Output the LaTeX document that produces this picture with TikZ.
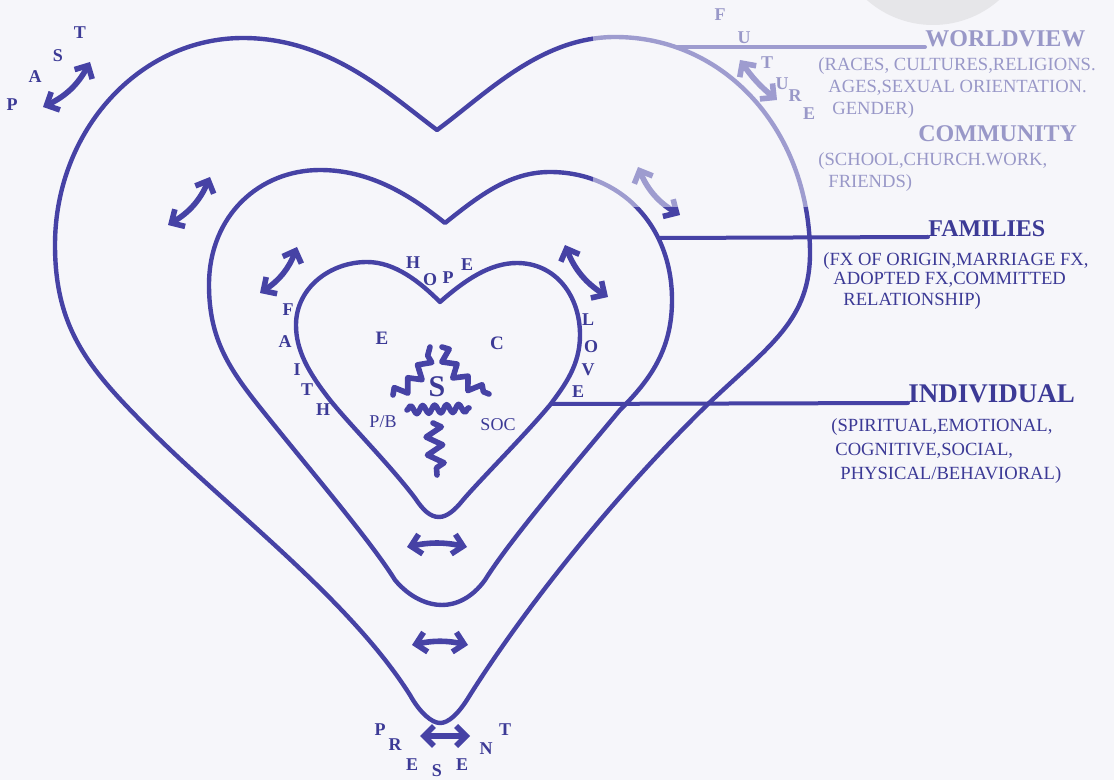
\documentclass[tikz,border=0pt]{standalone}
\usepackage{fontspec}
\setmainfont{Liberation Serif}
\usetikzlibrary{arrows.meta,decorations.pathmorphing}
\definecolor{heartblue}{RGB}{70,66,165}
\definecolor{inkblue}{RGB}{60,58,150}
\definecolor{paper}{RGB}{246,246,250}
\definecolor{blobgrey}{RGB}{230,230,233}
\begin{document}
\begin{tikzpicture}[
x=0.5pt,y=-0.5pt,
heart/.style={draw=heartblue,line width=2.2pt,line join=round},
leader/.style={draw=heartblue,line width=2pt,line cap=round},
swing/.style={draw=heartblue,line width=2.8pt,line cap=round,{Straight Barb[length=5pt,width=10pt]}-{Straight Barb[length=5pt,width=10pt]}},
letter/.style={text=inkblue,font=\bfseries\fontsize{9}{10}\selectfont,inner sep=0pt},
head/.style={text=inkblue,font=\bfseries\fontsize{12}{14}\selectfont,inner sep=0pt,anchor=base west},
desc/.style={text=inkblue,font=\fontsize{9.3}{11}\selectfont,inner sep=0pt,anchor=base west},
wave/.style={draw=heartblue,line width=2.8pt,line join=round,line cap=round,decorate}
]
\path[fill=paper,use as bounding box] (0,0) rectangle (1114,780);

\path[heart] (437,130) .. controls (485,95) and (540,37) .. (615,37)
  .. controls (725,37) and (808,130) .. (810,250)
  .. controls (811,320) and (770,345) .. (708,404)
  .. controls (620,490) and (530,600) .. (470,695)
  .. controls (458,715) and (448,723) .. (440,723)
  .. controls (432,723) and (420,713) .. (410,695)
  .. controls (350,600) and (230,510) .. (150,430)
  .. controls (90,370) and (55,330) .. (55,245)
  .. controls (55,130) and (140,38) .. (243,38)
  .. controls (330,38) and (390,95) .. (437,130) -- cycle;
\path[heart] (445,223) .. controls (480,195) and (510,172) .. (550,172)
  .. controls (620,172) and (672,225) .. (672,300)
  .. controls (672,350) and (650,380) .. (620,410)
  .. controls (570,470) and (510,540) .. (485,580)
  .. controls (472,598) and (456,605) .. (442,605)
  .. controls (428,605) and (410,598) .. (395,580)
  .. controls (370,540) and (310,470) .. (262,410)
  .. controls (230,370) and (209,340) .. (209,285)
  .. controls (209,215) and (260,170) .. (320,170)
  .. controls (370,170) and (410,195) .. (445,223) -- cycle;
\path[heart] (440,302) .. controls (465,280) and (490,263) .. (517,263)
  .. controls (555,263) and (580,295) .. (580,335)
  .. controls (580,365) and (565,385) .. (550,405)
  .. controls (525,435) and (480,480) .. (463,500)
  .. controls (455,510) and (447,517) .. (439,517)
  .. controls (430,517) and (423,510) .. (415,498)
  .. controls (390,465) and (350,425) .. (330,400)
  .. controls (308,372) and (296,350) .. (296,325)
  .. controls (296,288) and (330,262) .. (367,262)
  .. controls (395,262) and (420,282) .. (440,302) -- cycle;

\coordinate (past-a) at (43,107);
\coordinate (past-b) at (90,62);
\coordinate (outer-la) at (168,225);
\coordinate (outer-lb) at (210,177);
\coordinate (outer-ra) at (638,167);
\coordinate (outer-rb) at (680,215);
\coordinate (mid-la) at (260,293);
\coordinate (mid-lb) at (297,247);
\coordinate (mid-ra) at (565,245);
\coordinate (mid-rb) at (608,297);
\coordinate (future-a) at (740,60);
\coordinate (future-b) at (777,100);
\coordinate (low-a) at (407,547);
\coordinate (low-b) at (467,547);
\coordinate (lower-a) at (412,645);
\coordinate (lower-b) at (468,645);
\coordinate (present-a) at (420,736);
\coordinate (present-b) at (470,736);
\draw[swing] (past-a) to[bend right=18] (past-b);
\draw[swing] (outer-la) to[bend right=18] (outer-lb);
\draw[swing] (outer-ra) to[bend right=18] (outer-rb);
\draw[swing] (mid-la) to[bend right=18] (mid-lb);
\draw[swing] (mid-ra) to[bend right=18] (mid-rb);
\draw[swing] (future-a) to[bend right=8] (future-b);
\draw[swing] (low-a) to[bend left=12] (low-b);
\draw[swing] (lower-a) to[bend left=12] (lower-b);
\draw[swing] (present-a) -- (present-b);

\coordinate (self-e1) at (393,395);
\coordinate (self-e2) at (430,347);
\coordinate (self-c1) at (442,347);
\coordinate (self-c2) at (489,394);
\coordinate (self-s1) at (407,410);
\coordinate (self-s2) at (469,408);
\coordinate (self-p1) at (433,423);
\coordinate (self-p2) at (437,475);
\draw[wave,decoration={zigzag,segment length=9pt,amplitude=3pt}] (self-e1) to[bend right=25] (self-e2);
\draw[wave,decoration={zigzag,segment length=9pt,amplitude=3pt}] (self-c1) to[bend right=25] (self-c2);
\draw[wave,decoration={snake,segment length=6pt,amplitude=2pt}] (self-s1) -- (self-s2);
\draw[wave,decoration={zigzag,segment length=9pt,amplitude=4pt}] (self-p1) -- (self-p2);

\foreach \ch/\px/\py [count=\i] in {P/12/105,A/35/77,S/58/56,T/80/33}
  \node[letter] (past-\i) at (\px,\py) {\ch};
\foreach \ch/\px/\py [count=\i] in {F/720/15,U/744/38,T/767/63,U/782/84,R/795/96,E/809/114}
  \node[letter] (future-\i) at (\px,\py) {\ch};
\foreach \ch/\px/\py [count=\i] in {P/380/730,R/395/745,E/412/765,S/437/771,E/462/765,N/486/749,T/505/730}
  \node[letter] (present-\i) at (\px,\py) {\ch};
\foreach \ch/\px/\py [count=\i] in {H/413/263,O/430/280,P/448/278,E/467/265}
  \node[letter] (hope-\i) at (\px,\py) {\ch};
\foreach \ch/\px/\py [count=\i] in {F/288/310,A/285/342,I/297/370,T/307/390,H/323/410}
  \node[letter] (faith-\i) at (\px,\py) {\ch};
\foreach \ch/\px/\py [count=\i] in {L/588/320,O/591/347,V/588/370,E/578/392}
  \node[letter] (love-\i) at (\px,\py) {\ch};

\node[letter,font=\bfseries\fontsize{9.5}{10}\selectfont] (emo) at (382,338) {E};
\node[letter,font=\bfseries\fontsize{9.5}{10}\selectfont] (cog) at (497,343) {C};
\node[letter,font=\bfseries\fontsize{15}{16}\selectfont] (spirit) at (437,387) {S};
\node[letter,font=\fontsize{9}{10}\selectfont] (phys) at (383,422) {P/B};
\node[letter,font=\fontsize{9}{10}\selectfont] (soc) at (498,425) {SOC};

\node[head] (worldview) at (925,47) {WORLDVIEW};
\node[desc] (wv-l1) at (818,71) {(RACES, CULTURES,RELIGIONS.};
\node[desc] (wv-l2) at (828,93) {AGES,SEXUAL ORIENTATION.};
\node[desc] (wv-l3) at (832,115) {GENDER)};
\node[head] (community) at (918,142) {COMMUNITY};
\node[desc] (cm-l1) at (818,166) {(SCHOOL,CHURCH.WORK,};
\node[desc] (cm-l2) at (828,188) {FRIENDS)};
\node[head] (families) at (928,237) {FAMILIES};
\node[desc] (fx-l1) at (823,266) {(FX OF ORIGIN,MARRIAGE FX,};
\node[desc] (fx-l2) at (833,285) {ADOPTED FX,COMMITTED};
\node[desc] (fx-l3) at (843,306) {RELATIONSHIP)};
\node[head,font=\bfseries\fontsize{13.5}{15}\selectfont] (individual) at (908,403) {INDIVIDUAL};
\node[desc] (in-l1) at (831,432) {(SPIRITUAL,EMOTIONAL,};
\node[desc] (in-l2) at (835,456) {COGNITIVE,SOCIAL,};
\node[desc] (in-l3) at (840,480) {PHYSICAL/BEHAVIORAL)};

\coordinate (outer-tie) at (678,47);
\coordinate (mid-tie) at (660,238);
\coordinate (inner-tie) at (551,404);
\draw[leader] (outer-tie) -- (worldview.base west);
\draw[leader] (mid-tie) -- (families.base west);
\draw[leader] (inner-tie) -- (individual.base west);

\fill[paper,opacity=0.5] (593,0) rectangle (1114,207);
\begin{scope}
\clip (0,0) rectangle (1114,780);
\fill[blobgrey] (933,-75) circle[radius=50pt];
\end{scope}
\end{tikzpicture}
\end{document}
